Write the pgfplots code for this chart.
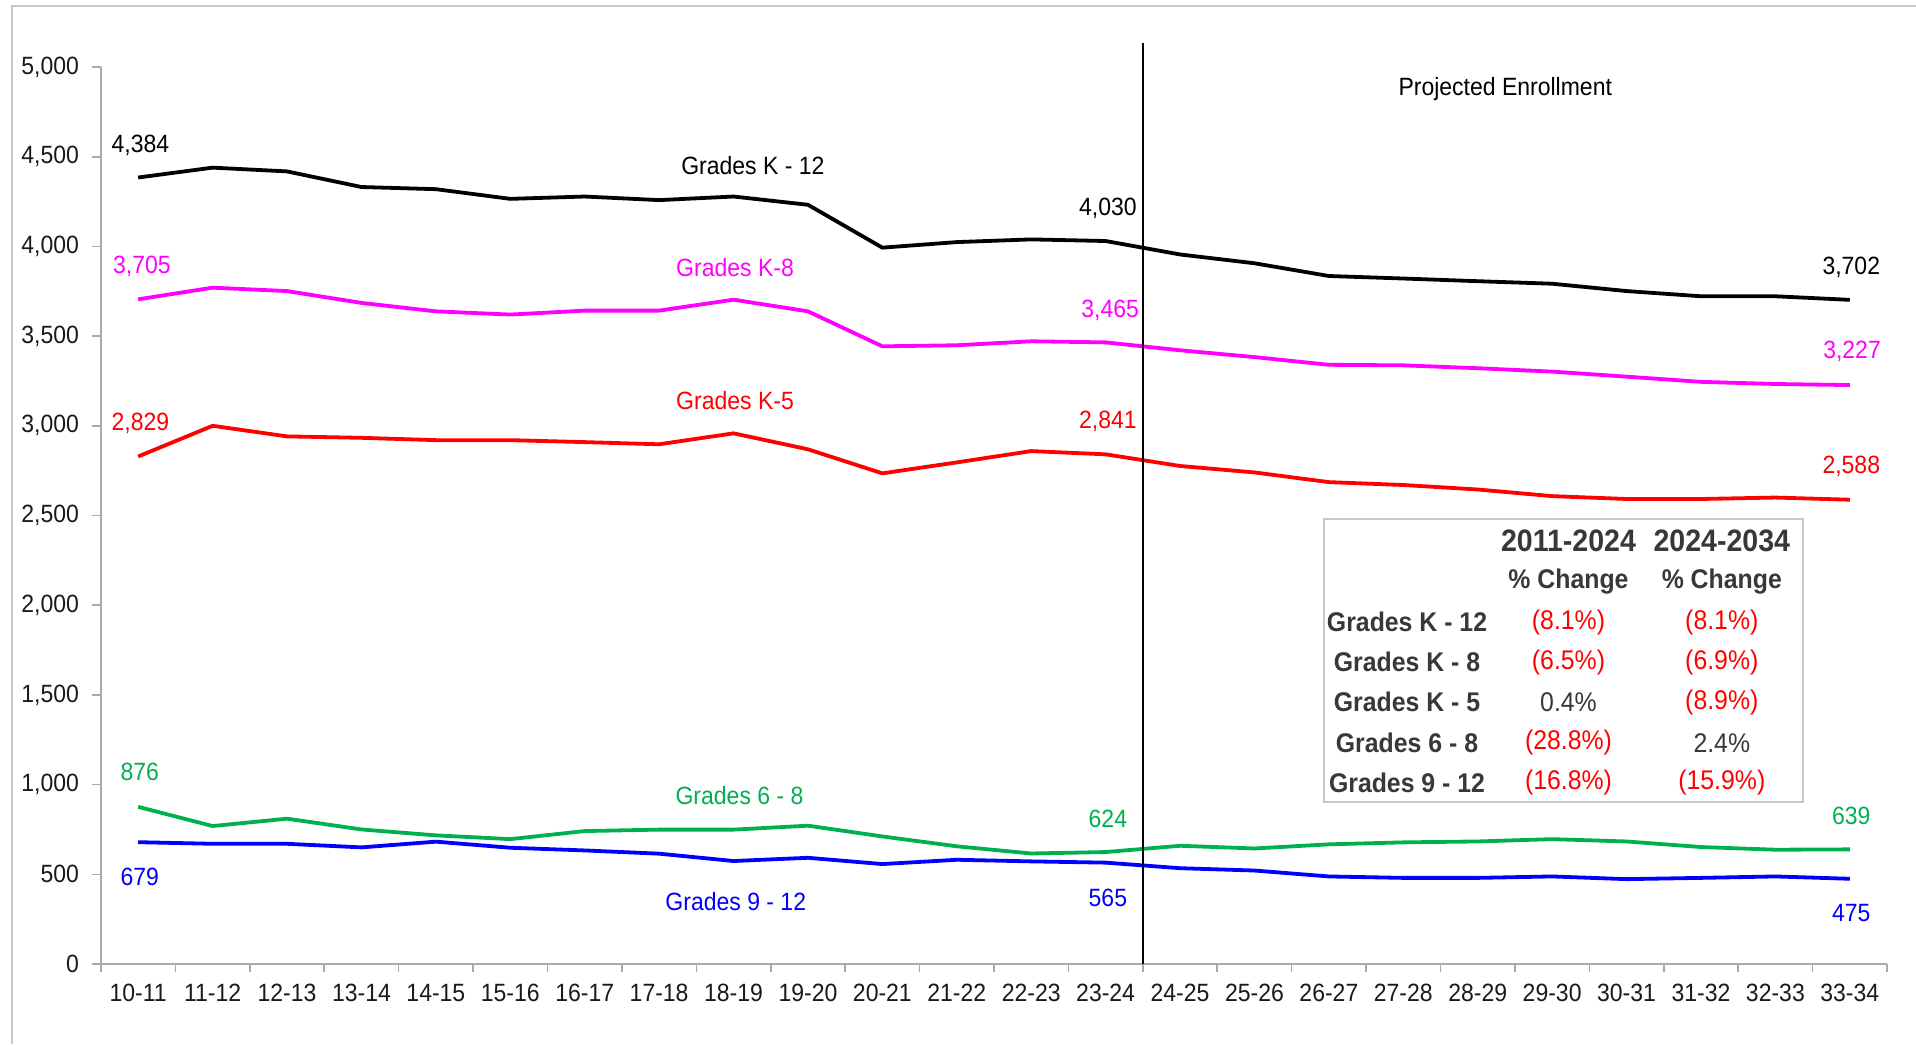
\documentclass[border=0pt]{standalone}
\usepackage{fontspec}
\setmainfont{Liberation Sans}[FakeStretch=0.92]
\usepackage{pgfplots}
\usepackage{pgfplotstable}
\pgfplotsset{compat=1.18}

\definecolor{kmag}{RGB}{255,0,255}
\definecolor{kred}{RGB}{255,0,0}
\definecolor{kgreen}{RGB}{0,176,80}
\definecolor{kblue}{RGB}{0,0,255}
\definecolor{tabtext}{RGB}{56,56,56}
\definecolor{axgray}{RGB}{170,170,170}
\definecolor{framegray}{RGB}{200,200,200}

% enrolment by school year, 0 = 10-11 ... 23 = 33-34
\pgfplotstableread{
idx k12  k8   k5   g68 g912
0   4384 3705 2829 876 679
1   4439 3770 3000 769 670
2   4418 3751 2941 810 670
3   4331 3685 2933 750 650
4   4319 3638 2920 717 682
5   4265 3620 2920 696 648
6   4278 3642 2909 741 633
7   4258 3642 2897 749 615
8   4278 3703 2958 749 574
9   4232 3638 2869 771 592
10  3993 3443 2735 711 557
11  4024 3449 2796 656 581
12  4039 3471 2859 616 572
13  4030 3465 2841 624 565
14  3955 3421 2776 659 534
15  3906 3383 2740 644 521
16  3835 3340 2686 667 488
17  3821 3337 2670 678 480
18  3806 3321 2645 683 480
19  3792 3302 2608 696 488
20  3751 3274 2592 683 473
21  3722 3245 2592 652 480
22  3722 3233 2600 637 488
23  3702 3227 2588 639 475
}\enrol

\newcommand{\lbl}{\fontsize{12.5}{15}\selectfont}
\newcommand{\tbl}{\fontsize{13.5}{16}\selectfont}
\newcommand{\thd}{\fontsize{15.5}{18}\selectfont\bfseries}

\begin{document}
\begin{tikzpicture}
\useasboundingbox (0,0) rectangle (958pt,522pt);
\draw[framegray, line width=1pt] (6pt,0) -- (6pt,519pt) -- (958pt,519pt);
\begin{axis}[
  at={(50.5pt,40pt)}, anchor=south west,
  scale only axis, width=893pt, height=448.5pt,
  xmin=-0.5, xmax=23.5, ymin=0, ymax=5000,
  clip=false,
  axis x line*=bottom, axis y line*=left,
  axis line style={axgray, line width=0.8pt},
  tick align=outside,
  xtick={0,...,23},
  xticklabels={10-11,11-12,12-13,13-14,14-15,15-16,16-17,17-18,18-19,19-20,20-21,21-22,22-23,23-24,24-25,25-26,26-27,27-28,28-29,29-30,30-31,31-32,32-33,33-34},
  major x tick style={draw=none},
  minor xtick={-0.5,0.5,...,23.5},
  minor x tick style={axgray, line width=0.8pt},
  minor tick length=4pt,
  ytick={0,500,...,5000},
  major y tick style={axgray, line width=0.8pt},
  major tick length=4.5pt,
  scaled y ticks=false,
  /pgf/number format/assume math mode=true,
  yticklabel style={/pgf/number format/1000 sep={,}, xshift=-3pt},
  xticklabel style={yshift=-2pt},
  tick label style={font=\lbl, text=black!90},
  every axis plot/.append style={line width=1.9pt, mark=none},
]
\addplot[black] table[x=idx, y=k12] {\enrol};
\addplot[kmag] table[x=idx, y=k8] {\enrol};
\addplot[kred] table[x=idx, y=k5] {\enrol};
\addplot[kgreen] table[x=idx, y=g68] {\enrol};
\addplot[kblue] table[x=idx, y=g912] {\enrol};

% projection divider
\draw[black, line width=1pt] (axis cs:13.5,0) -- (axis cs:13.5,5136);
\node[font=\lbl] at (axis cs:18.37,4877) {Projected Enrollment};

% series labels and values
\begin{scope}[every node/.style={font=\lbl}]
\node[text=black] at (axis cs:0.03,4564) {4,384};
\node[text=black] at (axis cs:8.26,4448) {Grades K - 12};
\node[text=black] at (axis cs:13.03,4210) {4,030};
\node[text=black] at (axis cs:23.02,3883) {3,702};
\node[text=kmag] at (axis cs:0.05,3890) {3,705};
\node[text=kmag] at (axis cs:8.02,3883) {Grades K-8};
\node[text=kmag] at (axis cs:13.06,3644) {3,465};
\node[text=kmag] at (axis cs:23.03,3413) {3,227};
\node[text=kred] at (axis cs:0.03,3011) {2,829};
\node[text=kred] at (axis cs:8.02,3140) {Grades K-5};
\node[text=kred] at (axis cs:13.03,3025) {2,841};
\node[text=kred] at (axis cs:23.02,2772) {2,588};
\node[text=kgreen] at (axis cs:0.02,1069) {876};
\node[text=kgreen] at (axis cs:8.08,940) {Grades 6 - 8};
\node[text=kgreen] at (axis cs:13.03,811) {624};
\node[text=kgreen] at (axis cs:23.02,824) {639};
\node[text=kblue] at (axis cs:0.02,484) {679};
\node[text=kblue] at (axis cs:8.03,347) {Grades 9 - 12};
\node[text=kblue] at (axis cs:13.03,368) {565};
\node[text=kblue] at (axis cs:23.02,286) {475};
\end{scope}

% percent change table
\draw[framegray, fill=white, line width=1pt] (axis cs:15.94,903) rectangle (axis cs:22.37,2480);
\begin{scope}[every node/.style={font=\tbl}]
\node[text=tabtext, font=\thd] at (axis cs:19.22,2358) {2011-2024};
\node[text=tabtext, font=\thd] at (axis cs:21.28,2358) {2024-2034};
\node[text=tabtext, font=\tbl\bfseries] at (axis cs:19.22,2129) {\% Change};
\node[text=tabtext, font=\tbl\bfseries] at (axis cs:21.28,2129) {\% Change};
\node[text=tabtext, font=\tbl\bfseries] at (axis cs:17.05,1906) {Grades K - 12};
\node[text=tabtext, font=\tbl\bfseries] at (axis cs:17.05,1683) {Grades K - 8};
\node[text=tabtext, font=\tbl\bfseries] at (axis cs:17.05,1460) {Grades K - 5};
\node[text=tabtext, font=\tbl\bfseries] at (axis cs:17.05,1232) {Grades 6 - 8};
\node[text=tabtext, font=\tbl\bfseries] at (axis cs:17.05,1009) {Grades 9 - 12};
\node[text=kred] at (axis cs:19.22,1906) {(8.1\%)};
\node[text=kred] at (axis cs:21.28,1906) {(8.1\%)};
\node[text=kred] at (axis cs:19.22,1683) {(6.5\%)};
\node[text=kred] at (axis cs:21.28,1683) {(6.9\%)};
\node[text=tabtext] at (axis cs:19.22,1460) {0.4\%};
\node[text=kred] at (axis cs:21.28,1460) {(8.9\%)};
\node[text=kred] at (axis cs:19.22,1232) {(28.8\%)};
\node[text=tabtext] at (axis cs:21.28,1232) {2.4\%};
\node[text=kred] at (axis cs:19.22,1009) {(16.8\%)};
\node[text=kred] at (axis cs:21.28,1009) {(15.9\%)};
\end{scope}
\end{axis}
\end{tikzpicture}
\end{document}
